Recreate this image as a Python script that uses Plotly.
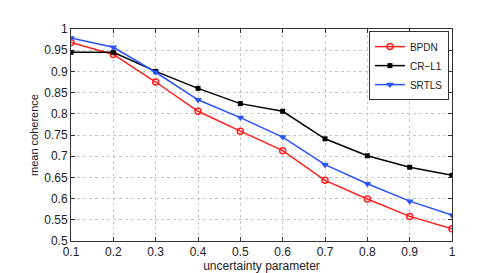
import plotly.graph_objects as go

x_vals = [0.1, 0.2, 0.3, 0.4, 0.5, 0.6, 0.7, 0.8, 0.9, 1.0]
bpdn = [0.968, 0.940, 0.875, 0.806, 0.759, 0.713, 0.643, 0.599, 0.558, 0.529]
crl1 = [0.945, 0.945, 0.900, 0.860, 0.824, 0.806, 0.741, 0.701, 0.674, 0.655]
srtls = [0.979, 0.957, 0.898, 0.833, 0.791, 0.745, 0.680, 0.635, 0.594, 0.561]
x_ticks = [0.1, 0.2, 0.3, 0.4, 0.5, 0.6, 0.7, 0.8, 0.9, 1]
x_tick_text = ["0.1", "0.2", "0.3", "0.4", "0.5", "0.6", "0.7", "0.8", "0.9", "1"]
y_ticks = [0.5, 0.55, 0.6, 0.65, 0.7, 0.75, 0.8, 0.85, 0.9, 0.95, 1]
y_tick_text = ["0.5", "0.55", "0.6", "0.65", "0.7", "0.75", "0.8", "0.85", "0.9", "0.95", "1"]

fig = go.Figure()
fig.add_trace(go.Scatter(x=x_vals, y=bpdn, name="BPDN", mode="lines+markers",
                         line=dict(color="#ff2020", width=1.5),
                         marker=dict(symbol="circle-open", size=6, color="#ff2020", line=dict(width=1.5))))
fig.add_trace(go.Scatter(x=x_vals, y=crl1, name="CR\u2212L1", mode="lines+markers",
                         line=dict(color="#000000", width=1.5),
                         marker=dict(symbol="square", size=5, color="#000000")))
fig.add_trace(go.Scatter(x=x_vals, y=srtls, name="SRTLS", mode="lines+markers",
                         line=dict(color="#2a52ff", width=1.5),
                         marker=dict(symbol="triangle-down", size=7, color="#2a52ff")))

axis_common = dict(showline=True, linecolor="#333333", linewidth=1, mirror="ticks",
                   ticks="inside", ticklen=4, tickcolor="#333333",
                   showgrid=True, gridcolor="#c8c8c8", griddash="dot", gridwidth=1,
                   zeroline=False, tickfont=dict(family="Liberation Sans, Arial", size=12, color="#222222"))

fig.update_layout(
    width=491, height=273,
    margin=dict(l=63, r=47, t=21, b=31),
    paper_bgcolor="white", plot_bgcolor="white",
    font=dict(family="Liberation Sans, Arial", size=12, color="#222222"),
    xaxis=dict(range=[0.1, 1.0], tickvals=x_ticks, ticktext=x_tick_text,
               title=dict(text="uncertainty parameter", standoff=1, font=dict(size=12)), **axis_common),
    yaxis=dict(range=[0.5, 1.0], tickvals=y_ticks, ticktext=y_tick_text,
               title=dict(text="mean coherence", standoff=3, font=dict(size=11)), **axis_common),
    legend=dict(x=0.992, y=0.99, xanchor="right", yanchor="top",
                bgcolor="white", bordercolor="#333333", borderwidth=1,
                font=dict(size=10), tracegroupgap=0, itemwidth=30),
    showlegend=True,
)

fig.write_html("out.html")
